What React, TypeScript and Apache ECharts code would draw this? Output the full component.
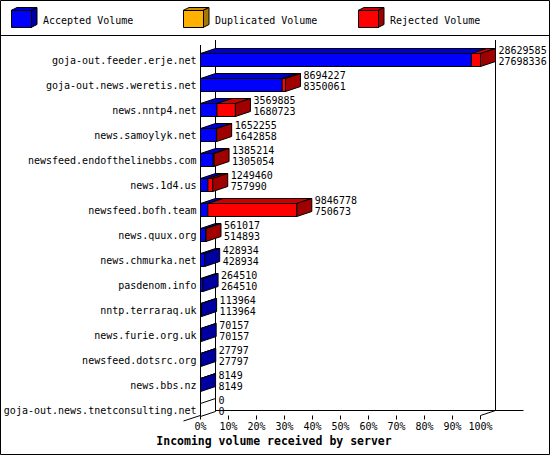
import React, { useEffect, useRef } from 'react';
import * as echarts from 'echarts';

const categories = [
  'goja-out.feeder.erje.net',
  'goja-out.news.weretis.net',
  'news.nntp4.net',
  'news.samoylyk.net',
  'newsfeed.endofthelinebbs.com',
  'news.1d4.us',
  'newsfeed.bofh.team',
  'news.quux.org',
  'news.chmurka.net',
  'pasdenom.info',
  'nntp.terraraq.uk',
  'news.furie.org.uk',
  'newsfeed.dotsrc.org',
  'news.bbs.nz',
  'goja-out.news.tnetconsulting.net',
];
const offered = [28629585, 8694227, 3569885, 1652255, 1385214, 1249460, 9846778, 561017, 428934, 264510, 113964, 70157, 27797, 8149, 0];
const accepted = [27698336, 8350061, 1680723, 1642858, 1305054, 757990, 750673, 514893, 428934, 264510, 113964, 70157, 27797, 8149, 0];
const duplicated = [0, 0, 0, 0, 0, 0, 0, 0, 0, 0, 0, 0, 0, 0, 0];
const rejected = [931249, 344166, 1889162, 9397, 80160, 491470, 9096105, 46124, 0, 0, 0, 0, 0, 0, 0];

const legendNames = ['Accepted Volume', 'Duplicated Volume', 'Rejected Volume'];
const axisTitle = 'Incoming volume received by server';

const COLORS = [
  { front: '#0000ff', top: '#0000cc', side: '#0000a0' },
  { front: '#ffb000', top: '#d09000', side: '#a87800' },
  { front: '#ff0000', top: '#cc0000', side: '#a00000' },
];

const FONT = '10px "DejaVu Sans Mono", "Liberation Mono", monospace';
const DX = 15;
const DY = 5;
const HALF = 6.5;

export default function App() {
  const ref = useRef<HTMLDivElement>(null);

  useEffect(() => {
    if (!ref.current) return;
    const chart = echarts.init(ref.current, undefined, { renderer: 'svg' });
    const maxOffered = Math.max(...offered);
    const pct = (v: number) => (v / maxOffered) * 100;
    const data = categories.map((_, i) => [
      i,
      pct(accepted[i]),
      pct(duplicated[i]),
      pct(rejected[i]),
      offered[i],
      accepted[i],
    ]);
    const last = categories.length - 1;

    const txt = (text: string, x: number, y: number, extra: any = {}) => ({
      type: 'text',
      style: {
        text,
        x,
        y,
        font: FONT,
        fill: '#000',
        textAlign: 'left',
        align: 'left',
        textVerticalAlign: 'middle',
        verticalAlign: 'middle',
        ...extra,
      },
    });

    const legendX = [11, 183, 358];
    const legendGraphics: any[] = [];
    legendNames.forEach((name, k) => {
      const x = legendX[k];
      const c = COLORS[k];
      legendGraphics.push({
        type: 'polygon',
        shape: { points: [[x, 10.5], [x + 20, 10.5], [x + 26, 7.5], [x + 6, 7.5]] },
        style: { fill: c.top, stroke: '#000', lineWidth: 1 },
      });
      legendGraphics.push({
        type: 'polygon',
        shape: { points: [[x + 20, 10.5], [x + 26, 7.5], [x + 26, 24.5], [x + 20, 27.5]] },
        style: { fill: c.side, stroke: '#000', lineWidth: 1 },
      });
      legendGraphics.push({
        type: 'rect',
        shape: { x: x + 0.5, y: 10.5, width: 20, height: 17 },
        style: { fill: c.front, stroke: '#000', lineWidth: 1 },
      });
      legendGraphics.push(txt(name, x + 32, 20));
    });

    const option: any = {
      animation: false,
      backgroundColor: '#fff',
      grid: { left: 200.5, width: 280, top: 47.5, height: 375 },
      xAxis: {
        type: 'value',
        min: 0,
        max: 100,
        interval: 10,
        offset: -7,
        axisLine: { show: false },
        axisTick: { show: true, length: 4, lineStyle: { color: '#000', width: 1 } },
        splitLine: { show: false },
        axisLabel: {
          formatter: '{value}%',
          color: '#000',
          fontFamily: '"DejaVu Sans Mono", monospace',
          fontSize: 10,
          margin: 6,
        },
      },
      yAxis: {
        type: 'category',
        inverse: true,
        data: categories,
        axisLine: { show: false },
        axisTick: { show: false },
        splitLine: { show: false },
        axisLabel: {
          color: '#000',
          fontFamily: '"DejaVu Sans Mono", monospace',
          fontSize: 10,
          margin: 4,
        },
      },
      graphic: [
        {
          type: 'rect',
          shape: { x: 0.5, y: 0.5, width: 549, height: 454 },
          style: { fill: 'none', stroke: '#000', lineWidth: 1 },
          z: 100,
        },
        {
          type: 'line',
          shape: { x1: 0, y1: 35.5, x2: 550, y2: 35.5 },
          style: { stroke: '#000', lineWidth: 1 },
        },
        ...legendGraphics,
        {
          type: 'text',
          style: {
            text: axisTitle,
            x: 274,
            y: 441,
            font: 'bold 11.5px "DejaVu Sans Mono", monospace',
            fill: '#000',
            textAlign: 'center',
            align: 'center',
            textVerticalAlign: 'middle',
            verticalAlign: 'middle',
          },
        },
      ],
      series: [
        {
          type: 'custom',
          clip: false,
          z: 1,
          data: [[0]],
          renderItem: (params: any, api: any) => {
            const [x0, c0] = api.coord([0, 0]);
            const x1 = api.coord([100, 0])[0];
            const cl = api.coord([0, last])[1];
            const yT = c0 - 15;
            const yB = cl + 5.5;
            const ln = (a: number, b: number, c: number, d: number) => ({
              type: 'line',
              shape: { x1: a, y1: b, x2: c, y2: d },
              style: { stroke: '#000', lineWidth: 1 },
            });
            return {
              type: 'group',
              children: [
                ln(x0, yT, x0, yB),
                ln(x0 + DX, yT - DY, x0 + DX, yB - DY),
                ln(x1 + DX, yT - DY, x1 + DX, yB - DY),
                ln(x0 + DX, yB - DY, x1 + DX + 28, yB - DY),
                ln(x0 - DX - 2, yB + DY + 0.5, x0 + DX, yB - DY),
                ln(x1, yB, x1 + DX, yB - DY),
              ],
            };
          },
        },
        {
          type: 'custom',
          clip: false,
          z: 2,
          data,
          encode: { x: [1, 2, 3], y: 0 },
          renderItem: (params: any, api: any) => {
            const i = api.value(0);
            const vals = [api.value(1), api.value(2), api.value(3)];
            const [x0, cy] = api.coord([0, i]);
            const children: any[] = [];
            let start = 0;
            let xs = x0;
            let sideColor = '#fff';
            vals.forEach((v: number, k: number) => {
              const end = start + v;
              const xe = api.coord([end, i])[0];
              if (v > 0) {
                const c = COLORS[k];
                children.push({
                  type: 'polygon',
                  shape: { points: [[xs, cy - HALF], [xe, cy - HALF], [xe + DX, cy - HALF - DY], [xs + DX, cy - HALF - DY]] },
                  style: { fill: c.top, stroke: '#000', lineWidth: 1 },
                });
                children.push({
                  type: 'rect',
                  shape: { x: xs, y: cy - HALF, width: xe - xs, height: 2 * HALF },
                  style: { fill: c.front, stroke: '#000', lineWidth: 1 },
                });
                sideColor = c.side;
              }
              start = end;
              xs = xe;
            });
            children.push({
              type: 'polygon',
              shape: { points: [[xs, cy - HALF], [xs + DX, cy - HALF - DY], [xs + DX, cy + HALF - DY], [xs, cy + HALF]] },
              style: { fill: sideColor, stroke: '#000', lineWidth: 1 },
            });
            children.push(txt(String(api.value(4)), xs + DX + 3, cy - 9.5));
            children.push(txt(String(api.value(5)), xs + DX + 3, cy + 1.5));
            return { type: 'group', children };
          },
        },
      ],
    };
    chart.setOption(option);
    return () => chart.dispose();
  }, []);

  return (
    <div
      ref={ref}
      style={{ position: 'absolute', left: 0, top: 0, width: 550, height: 455, background: '#fff' }}
    />
  );
}
